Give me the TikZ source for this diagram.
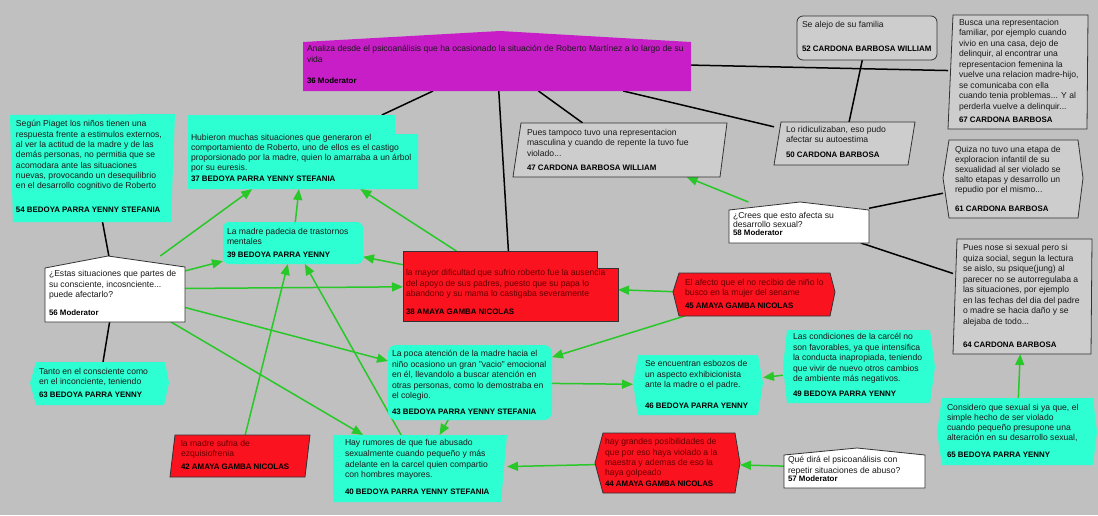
\documentclass[tikz,border=0pt]{standalone}
\usepackage{fontspec}
\setmainfont{Liberation Sans}
\usetikzlibrary{arrows.meta,fit}
\definecolor{bgc}{RGB}{192,192,192}
\definecolor{cyan0}{RGB}{45,255,210}
\definecolor{red0}{RGB}{250,18,30}
\definecolor{mag0}{RGB}{200,30,200}
\definecolor{gray0}{RGB}{205,205,205}
\definecolor{bord}{RGB}{50,50,50}
\definecolor{green0}{RGB}{40,200,40}
\definecolor{txtc}{RGB}{25,25,25}
\definecolor{redtxt}{RGB}{105,0,0}
\newcommand\fsz[1]{\fontsize{8.6}{#1}\selectfont}
\newcommand\lbl[1]{{\fontsize{7.9}{10}\selectfont\bfseries\color{black}#1}}
\begin{document}
\begin{tikzpicture}[x=1pt,y=-1pt,
  geo/.style={inner sep=0pt,outer sep=0pt,draw=none},
  txt/.style={anchor=north west,inner sep=0pt,outer sep=0pt,align=left,text=txtc},
  rtxt/.style={txt,text=redtxt},
  cy/.style={fill=cyan0},
  rd/.style={fill=red0,draw=bord,line width=0.8pt},
  gy/.style={fill=gray0,draw=bord,line width=0.8pt},
  wh/.style={fill=white,draw=bord,line width=0.8pt},
  mg/.style={fill=mag0},
  gline/.style={draw=green0,line width=1.5pt,-{Triangle[length=11pt,width=9pt]}},
  bline/.style={draw=black,line width=1.5pt}]
\useasboundingbox (0,0) rectangle (1098,515);
\fill[bgc] (0,0) rectangle (1098,515);
% geometry nodes
\node[geo,fit={(303,31) (691,91)}] (n36) {};
\node[geo,fit={(797,16) (937,60)}] (n52) {};
\node[geo,fit={(948,15) (1088,129)}] (n67) {};
\node[geo,fit={(10,114) (175,222)}] (n54) {};
\node[geo,fit={(188,115) (418,189)}] (n37) {};
\node[geo,fit={(513,123) (727,177)}] (n47) {};
\node[geo,fit={(774,122) (915,165)}] (n50) {};
\node[geo,fit={(943,140) (1083,218)}] (n61) {};
\node[geo,fit={(729,202) (869,243)}] (n58) {};
\node[geo,fit={(953,239) (1092,354)}] (n64) {};
\node[geo,fit={(937,398) (1097,465)}] (n65) {};
\node[geo,fit={(223,222) (363,264)}] (n39) {};
\node[geo,fit={(45,256) (185,322)}] (n56) {};
\node[geo,fit={(403,251) (618,321)}] (n38) {};
\node[geo,fit={(673,273) (835,316)}] (n45) {};
\node[geo,fit={(30,362) (169,405)}] (n63) {};
\node[geo,fit={(170,435) (310,477)}] (n42) {};
\node[geo,fit={(388,345) (552,420)}] (n43) {};
\node[geo,fit={(333,435) (507,502)}] (n40) {};
\node[geo,fit={(633,355) (763,415)}] (n46) {};
\node[geo,fit={(783,330) (935,403)}] (n49) {};
\node[geo,fit={(595,433) (740,493)}] (n44) {};
\node[geo,fit={(784,448) (925,488)}] (n57) {};
% black connectors
\draw[bline] (n36) -- (n37);
\draw[bline] (n36) -- (n38);
\draw[bline] (n36) -- (n47);
\draw[bline] (n36) -- (n50);
\draw[bline] (n36) -- (n67);
\draw[bline] (n52) -- (n50);
\draw[bline] (n54) -- (n56);
\draw[bline] (n56) -- (n63);
\draw[bline] (n58) -- (n61);
\draw[bline] (n58) -- (n64);
% green arrows
\draw[gline] (n56) -- (n37);
\draw[gline] (n56) -- (n39);
\draw[gline] (n56) -- (n38);
\draw[gline] (n56) -- (n43);
\draw[gline] (n56) -- (n40);
\draw[gline] (n42) -- (n39);
\draw[gline] (n40) -- (n39);
\draw[gline] (n43) -- (n40);
\draw[gline] (n43) -- (n46);
\draw[gline] (n45) -- (n43);
\draw[gline] (n45) -- (n38);
\draw[gline] (n44) -- (n40);
\draw[gline] (n57) -- (n44);
\draw[gline] (n49) -- (n46);
\draw[gline] (n65) -- (n64);
\draw[gline] (n58) -- (n47);
\draw[gline] (n38) -- (n37);
\draw[gline] (n38) -- (n39);
\draw[gline] (n39) -- (n37);
% shapes
\path[mg] (303,42) -- (500,31) -- (691,42) -- (691,91) -- (303,91) -- cycle;
\path[gy,rounded corners=6pt] (797,16) rectangle (937,60);
\path[gy] (953,15) -- (1088,15) -- (1087,129) -- (948,129) -- cycle;
\path[cy] (10,115) -- (175,114) -- (171,222) -- (13,222) -- cycle;
\path[cy] (188,115) -- (395,115) -- (395,134) -- (418,134) -- (418,189) -- (188,189) -- cycle;
\path[gy] (521,123) -- (727,123) -- (720,177) -- (513,177) -- cycle;
\path[gy] (781,122) -- (915,122) -- (908,165) -- (774,165) -- cycle;
\path[gy] (949,140) -- (1078,140) -- (1083,178) -- (1078,218) -- (949,218) -- (943,178) -- cycle;
\path[wh] (729,210) -- (800,202) -- (869,210) -- (869,243) -- (729,243) -- cycle;
\path[gy] (957,239) -- (1092,239) -- (1091,354) -- (953,354) -- cycle;
\path[cy] (942,398) -- (1093,398) -- (1097,432) -- (1093,465) -- (942,465) -- (937,432) -- cycle;
\path[cy,rounded corners=6pt] (223,222) rectangle (363,264);
\path[wh] (45,268) -- (108,256) -- (185,267) -- (185,322) -- (45,322) -- cycle;
\path[rd] (403,251) -- (597,251) -- (597,268) -- (618,268) -- (618,321) -- (403,321) -- cycle;
\path[rd] (679,273) -- (830,273) -- (835,292) -- (830,316) -- (679,316) -- (673,292) -- cycle;
\path[cy] (36,362) -- (165,362) -- (169,383) -- (164,405) -- (36,405) -- (30,383) -- cycle;
\path[rd] (175,435) -- (310,435) -- (305,477) -- (170,477) -- cycle;
\path[cy,rounded corners=8pt] (388,345) rectangle (552,420);
\path[cy] (333,435) -- (507,435) -- (501,502) -- (333,502) -- cycle;
\path[cy] (638,355) -- (758,355) -- (763,383) -- (758,415) -- (638,415) -- (633,383) -- cycle;
\path[cy] (787,330) -- (930,330) -- (935,367) -- (930,403) -- (787,403) -- (783,367) -- cycle;
\path[rd] (603,433) -- (735,433) -- (740,463) -- (735,493) -- (603,493) -- (595,463) -- cycle;
\path[wh] (784,455) -- (857,448) -- (925,455) -- (925,488) -- (784,488) -- cycle;
% texts
\node[txt,font=\fsz{10.5}] (t36) at (307,45.5) {Analiza desde el psicoanálisis que ha ocasionado la situación de Roberto Martínez a lo largo de su\\vida\\[11pt]\lbl{36 Moderator}};
\node[txt,font=\fsz{10.5}] (t52) at (802,21.5) {Se alejo de su familia\\[13.5pt]\lbl{52 CARDONA BARBOSA WILLIAM}};
\node[txt,font=\fsz{10.5}] (t67) at (959,19) {Busca una representacion\\familiar, por ejemplo cuando\\vivio en una casa, dejo de\\delinquir, al encontrar una\\representacion femenina la\\vuelve una relacion madre-hijo,\\se comunicaba con ella\\cuando tenia problemas... Y al\\perderla vuelve a delinquir...\\[3pt]\lbl{67 CARDONA BARBOSA}};
\node[txt,font=\fsz{10.3}] (t54) at (16,120.5) {Según Piaget los niños tienen una\\respuesta frente a estimulos externos,\\al ver la actitud de la madre y de las\\demás personas, no permitia que se\\acomodara ante las situaciones\\nuevas, provocando un desequilibrio\\en el desarrollo cognitivo de Roberto\\[13.7pt]\lbl{54 BEDOYA PARRA YENNY STEFANIA}};
\node[txt,font=\fsz{10}] (t37) at (191,134.5) {Hubieron muchas situaciones que generaron el\\comportamiento de Roberto, uno de ellos es el castigo\\proporsionado por la madre, quien lo amarraba a un árbol\\por su euresis.\\[1pt]\lbl{37 BEDOYA PARRA YENNY STEFANIA}};
\node[txt,font=\fsz{10.2}] (t47) at (527,129.5) {Pues tampoco tuvo una representacion\\masculina y cuando de repente la tuvo fue\\violado...\\[4.3pt]\lbl{47 CARDONA BARBOSA WILLIAM}};
\node[txt,font=\fsz{10}] (t50) at (786,126.5) {Lo ridiculizaban, eso pudo\\afectar su autoestima\\[5pt]\lbl{50 CARDONA BARBOSA}};
\node[txt,font=\fsz{10}] (t61) at (955,146.5) {Quiza no tuvo una etapa de\\exploracion infantil de su\\sexualidad al ser violado se\\salto etapas y desarrollo un\\repudio por el mismo...\\[9pt]\lbl{61 CARDONA BARBOSA}};
\node[txt,font=\fsz{9}] (t58) at (733,212.5) {¿Crees que esto afecta su\\desarrollo sexual?\\[-1pt]\lbl{58 Moderator}};
\node[txt,font=\fsz{10.5}] (t64) at (963,244.5) {Pues nose si sexual pero si\\quiza social, segun la lectura\\se aislo, su psique(jung) al\\parecer no se autorregulaba a\\las situaciones, por ejemplo\\en las fechas del dia del padre\\o madre se hacia daño y se\\alejaba de todo...\\[13pt]\lbl{64 CARDONA BARBOSA}};
\node[txt,font=\fsz{10}] (t65) at (947,404.5) {Considero que sexual si ya que, el\\simple hecho de ser violado\\cuando pequeño presupone una\\alteración en su desarrollo sexual,\\[7pt]\lbl{65 BEDOYA PARRA YENNY}};
\node[txt,font=\fsz{10}] (t39) at (227,228.5) {La madre padecia de trastornos\\mentales\\[3pt]\lbl{39 BEDOYA PARRA YENNY}};
\node[txt,font=\fsz{10.5}] (t56) at (49,270.5) {¿Estas situaciones que partes de\\su consciente, incosnciente...\\puede afectarlo?\\[7.5pt]\lbl{56 Moderator}};
\node[rtxt,font=\fsz{10.5}] (t38) at (406,269.5) {la mayor dificultad que sufrio roberto fue la ausencia\\del apoyo de sus padres, puesto que su papa lo\\abandono y su mama lo castigaba severamente\\[7.5pt]\lbl{38 AMAYA GAMBA NICOLAS}};
\node[rtxt,font=\fsz{10}] (t45) at (685,279.5) {El afecto que el no recibio de niño lo\\busco en la mujer del sename\\[3pt]\lbl{45 AMAYA GAMBA NICOLAS}};
\node[txt,font=\fsz{10}] (t63) at (39,368.5) {Tanto en el consciente como\\en el inconciente, teniendo\\[3pt]\lbl{63 BEDOYA PARRA YENNY}};
\node[rtxt,font=\fsz{10}] (t42) at (181,440.5) {la madre sufria de\\ezquisiofrenia\\[3pt]\lbl{42 AMAYA GAMBA NICOLAS}};
\node[txt,font=\fsz{10.5}] (t43) at (392,350.5) {La poca atención de la madre hacia el\\niño ocasiono un gran "vacio" emocional\\en él, llevandolo a buscar atención en\\otras personas, como lo demostraba en\\el colegio.\\[5.5pt]\lbl{43 BEDOYA PARRA YENNY STEFANIA}};
\node[txt,font=\fsz{10.7}] (t40) at (345,439.5) {Hay rumores de que fue abusado\\sexualmente cuando pequeño y más\\adelante en la carcel quien compartio\\con hombres mayores.\\[6.3pt]\lbl{40 BEDOYA PARRA YENNY STEFANIA}};
\node[txt,font=\fsz{10.5}] (t46) at (645,360.5) {Se encuentran esbozos de\\un aspecto exhibicionista\\ante la madre o el padre.\\[10.5pt]\lbl{46 BEDOYA PARRA YENNY}};
\node[txt,font=\fsz{10.5}] (t49) at (793,333.5) {Las condiciones de la carcél no\\son favorables, ya que intensifica\\la conducta inapropiada, teniendo\\que vivir de nuevo otros cambios\\de ambiente más negativos.\\[4.5pt]\lbl{49 BEDOYA PARRA YENNY}};
\node[rtxt,font=\fsz{10.3}] (t44) at (605,438.5) {hay grandes posibilidades de\\que por eso haya violado a la\\maestra y ademas de eso la\\haya golpeado\\[0.7pt]\lbl{44 AMAYA GAMBA NICOLAS}};
\node[txt,font=\fsz{10.5}] (t57) at (788,456.5) {Qué dirá el psicoanálisis con\\repetir situaciones de abuso?\\[-2.5pt]\lbl{57 Moderator}};
\end{tikzpicture}
\end{document}
